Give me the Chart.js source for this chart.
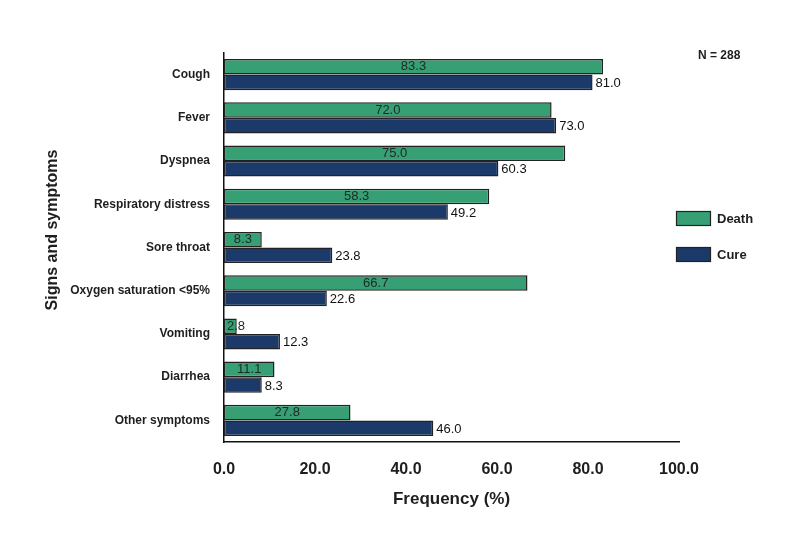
<!DOCTYPE html>
<html>
<head>
    <title>Signs and symptoms</title>
    <script src="https://cdn.jsdelivr.net/npm/chart.js"></script>
    <style>
        html, body { margin: 0; padding: 0; background: #fff; }
        #wrap { width: 785px; height: 536px; }
    </style>
</head>
<body>
    <div id="wrap">
        <canvas id="myChart"></canvas>
    </div>

    <script>
        const categories = ['Cough', 'Fever', 'Dyspnea', 'Respiratory distress', 'Sore throat',
            'Oxygen saturation <95%', 'Vomiting', 'Diarrhea', 'Other symptoms'];
        const deathValues = [83.3, 72.0, 75.0, 58.3, 8.3, 66.7, 2.8, 11.1, 27.8];
        const cureValues = [81.0, 73.0, 60.3, 49.2, 23.8, 22.6, 12.3, 8.3, 46.0];
        const xTicks = [0, 20, 40, 60, 80, 100];
        const seriesNames = ['Death', 'Cure'];
        const sampleNote = 'N = 288';

        const FONT = "'Liberation Sans', Arial, sans-serif";
        const GREEN = '#36a074';
        const NAVY = '#1b3a69';
        const EDGE = '#222222';

        // value labels, legend, note and y title drawn on top of the chart
        const extras = {
            id: 'extras',
            afterDatasetsDraw(chart) {
                const ctx = chart.ctx;
                ctx.save();
                ctx.textBaseline = 'middle';
                chart.data.datasets.forEach((ds, i) => {
                    const meta = chart.getDatasetMeta(i);
                    meta.data.forEach((bar, j) => {
                        const txt = ds.data[j].toFixed(1);
                        ctx.font = '13px ' + FONT;
                        if (i === 0) {
                            const w = ctx.measureText(txt).width;
                            ctx.fillStyle = '#1c2a24';
                            ctx.textAlign = 'center';
                            const cx = Math.max((bar.x + bar.base) / 2, bar.base + w / 2 + 3);
                            ctx.fillText(txt, cx, bar.y);
                        } else {
                            ctx.fillStyle = '#111';
                            ctx.textAlign = 'left';
                            ctx.fillText(txt, bar.x + 3, bar.y + 1);
                        }
                    });
                });

                // legend
                ctx.font = 'bold 13px ' + FONT;
                ctx.textAlign = 'left';
                chart.data.datasets.forEach((ds, i) => {
                    const y = 211 + i * 36;
                    ctx.fillStyle = ds.backgroundColor;
                    ctx.fillRect(676, y, 35, 15);
                    ctx.strokeStyle = EDGE;
                    ctx.lineWidth = 1.2;
                    ctx.strokeRect(676.5, y + 0.5, 34, 14);
                    ctx.fillStyle = '#1e1e1e';
                    ctx.fillText(ds.label, 717, y + 8);
                });

                // sample size note
                ctx.font = 'bold 12px ' + FONT;
                ctx.fillText(sampleNote, 698, 56);

                // y axis title
                ctx.translate(53, 230);
                ctx.rotate(-Math.PI / 2);
                ctx.textAlign = 'center';
                ctx.font = 'bold 16px ' + FONT;
                ctx.fillText('Signs and symptoms', 0, 0);
                ctx.restore();
            }
        };

        new Chart(document.getElementById('myChart'), {
            type: 'bar',
            data: {
                labels: categories,
                datasets: [{
                    label: seriesNames[0],
                    data: deathValues,
                    backgroundColor: GREEN,
                    borderColor: EDGE,
                    borderWidth: 1.5,
                    borderSkipped: false
                }, {
                    label: seriesNames[1],
                    data: cureValues,
                    backgroundColor: NAVY,
                    borderColor: EDGE,
                    borderWidth: 1.5,
                    borderSkipped: false
                }]
            },
            options: {
                indexAxis: 'y',
                responsive: true,
                maintainAspectRatio: false,
                animation: false,
                layout: { padding: { top: 53, right: 106, left: 0, bottom: 0 } },
                datasets: { bar: { categoryPercentage: 0.72, barPercentage: 1.0 } },
                plugins: {
                    legend: { display: false },
                    tooltip: { enabled: false }
                },
                scales: {
                    x: {
                        min: 0,
                        max: 100,
                        afterBuildTicks: (scale) => { scale.ticks = xTicks.map(v => ({ value: v })); },
                        afterFit: (scale) => { scale.height = 94; },
                        grid: { display: false },
                        border: { display: true, color: '#111', width: 1.5 },
                        ticks: {
                            padding: 10,
                            color: '#1e1e1e',
                            font: { family: FONT, size: 16, weight: 'bold' },
                            callback: v => v.toFixed(1)
                        },
                        title: {
                            display: true,
                            text: 'Frequency (%)',
                            color: '#1e1e1e',
                            font: { family: FONT, size: 17, weight: 'bold' },
                            padding: { top: 4, bottom: 26 }
                        }
                    },
                    y: {
                        afterFit: (scale) => { scale.width = 224; },
                        grid: { display: false },
                        border: { display: true, color: '#111', width: 1.5 },
                        ticks: {
                            padding: 6,
                            color: '#1e1e1e',
                            font: { family: FONT, size: 12, weight: 'bold' }
                        }
                    }
                }
            },
            plugins: [extras]
        });
    </script>
</body>
</html>
